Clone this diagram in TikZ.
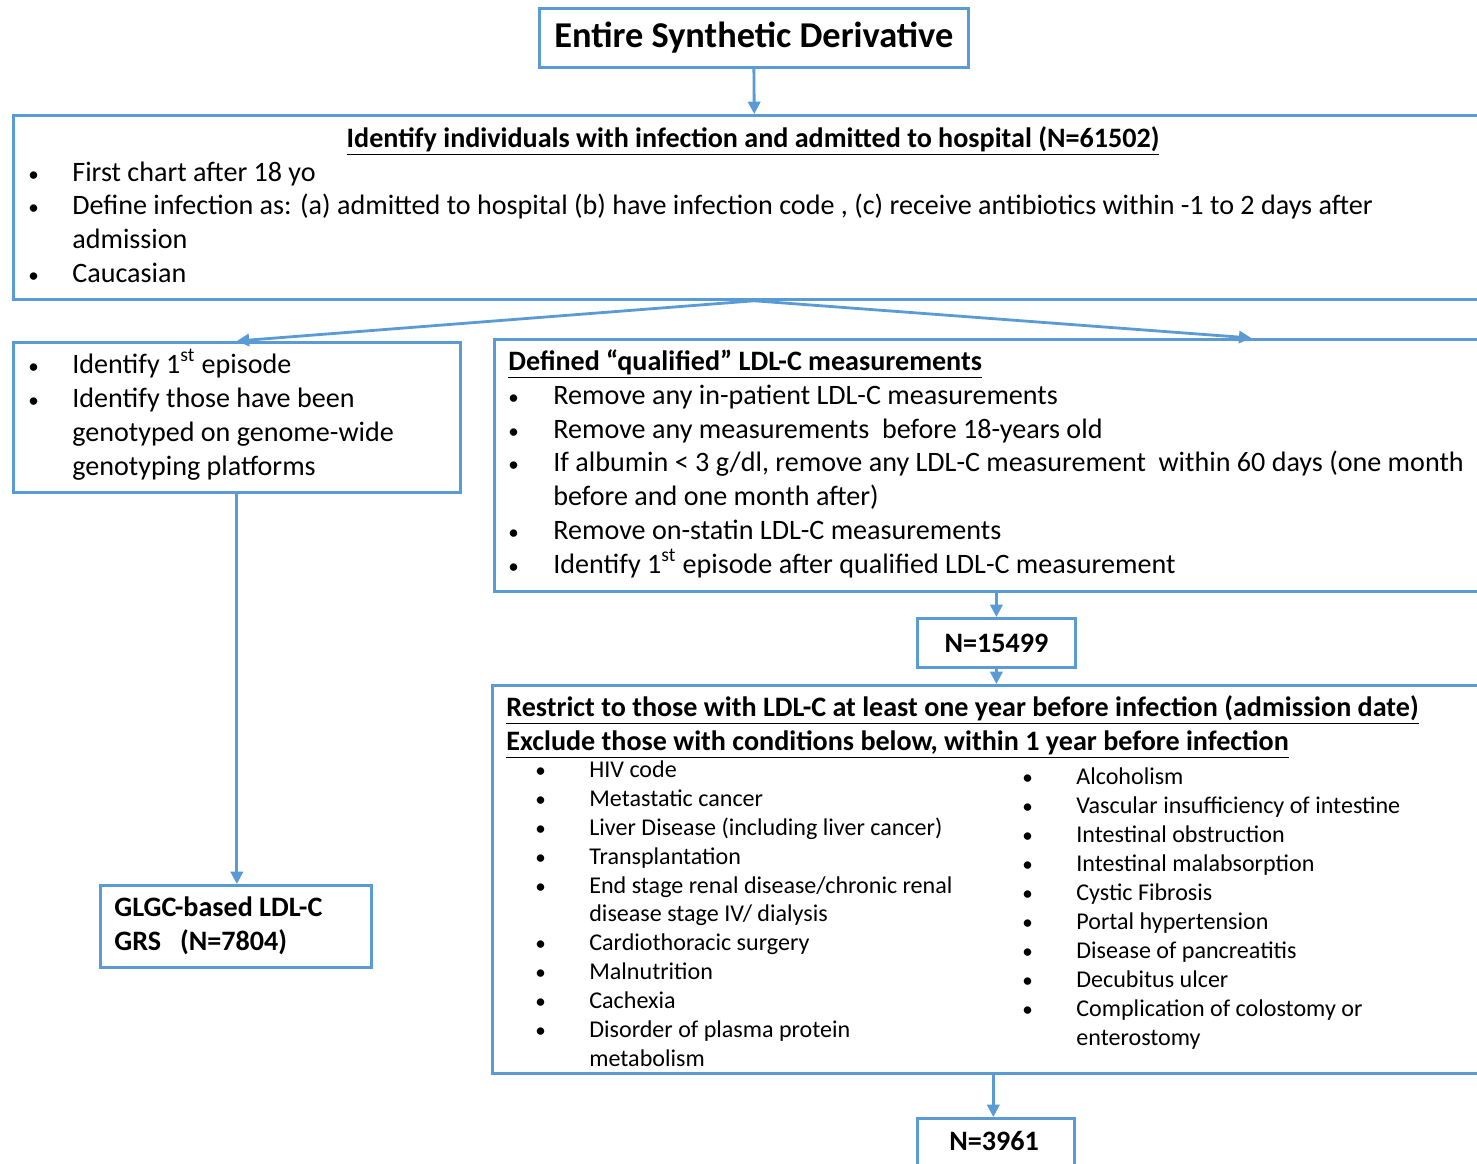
\documentclass[tikz,border=0pt]{standalone}
\usepackage{fontspec}
\setmainfont{Carlito}
\usetikzlibrary{arrows.meta}
\definecolor{boxBlue}{HTML}{5B9BD5}

\begin{document}
\begin{tikzpicture}[x=0.02cm, y=-0.02cm, font=\fontsize{16}{19}\selectfont,
    box/.style={draw=boxBlue, line width=1.6pt, inner sep=0pt, anchor=north west},
    arr/.style={boxBlue, line width=1.6pt, -{Triangle[length=7pt,width=7pt]}},
    txt/.style={anchor=base west, inner sep=0pt},
    bul/.style={txt, font=\fontsize{12}{14}\selectfont},
    hd/.style={txt, font=\bfseries\fontsize{16}{19}\selectfont},
    sm/.style={txt, font=\fontsize{13.7}{16}\selectfont}]
    \useasboundingbox (0,0) rectangle (1477,1163);
    \clip (0,0) rectangle (1477,1163);

    % boxes
    \node[box, minimum width=8.58cm, minimum height=1.18cm,
      font=\bfseries\fontsize{20.7}{24}\selectfont] (top) at (538,7) {Entire Synthetic Derivative};
    \node[box, minimum width=29.64cm, minimum height=3.68cm] (infect) at (12,114) {};
    \node[box, minimum width=8.94cm, minimum height=3.0cm] (epi) at (12,341) {};
    \node[box, minimum width=30.28cm, minimum height=5.04cm] (qual) at (493,338) {};
    \node[box, minimum width=5.42cm, minimum height=1.64cm] (grs) at (99,884) {};
    \node[box, minimum width=3.16cm, minimum height=0.98cm,
      font=\bfseries\fontsize{16}{19}\selectfont] (nA) at (916,617) {N=15499};
    \node[box, minimum width=20.04cm, minimum height=7.76cm] (excl) at (491,684) {};
    \node[box, minimum width=3.14cm, minimum height=1.6cm] (nB) at (916,1117) {};

    % infection box
    \node[hd, anchor=base] (infHd) at (753,147) {\underline{Identify individuals with infection and admitted to hospital (N=61502)}};
    \foreach \y/\b/\t [count=\k] in {
        181/•/First chart after 18 yo,
        214/•/{Define infection as: (a) admitted to hospital (b) have infection code , (c) receive antibiotics within -1 to 2 days after},
        248//admission,
        282/•/Caucasian} {
      \node[bul] (infB\k) at (28,\y) {\b};
      \node[txt] (inf\k) at (72,\y) {\t};
    }

    % episode box
    \foreach \y/\b/\t [count=\k] in {
        373/•/Identify 1\textsuperscript{st} episode,
        407/•/Identify those have been,
        441//genotyped on genome-wide,
        475//genotyping platforms} {
      \node[bul] (epiB\k) at (28,\y) {\b};
      \node[txt] (epi\k) at (72,\y) {\t};
    }

    % qualified box
    \node[hd] (qualHd) at (508,370) {\underline{Defined “qualified” LDL-C measurements}};
    \foreach \y/\b/\t [count=\k] in {
        404/•/Remove any in-patient LDL-C measurements,
        438/•/Remove any measurements\ \ before 18-years old,
        471/•/{If albumin < 3 g/dl, remove any LDL-C measurement\ \ within 60 days (one month},
        505//before and one month after),
        539/•/Remove on-statin LDL-C measurements,
        573/•/Identify 1\textsuperscript{st} episode after qualified LDL-C measurement} {
      \node[bul] (qualB\k) at (508,\y) {\b};
      \node[txt] (qual\k) at (553,\y) {\t};
    }

    % GRS box
    \node[hd] (grs1) at (114,916) {GLGC-based LDL-C};
    \node[hd] (grs2) at (114,950) {GRS\ \ \ (N=7804)};

    % exclusion box
    \node[hd] (exHdA) at (506,716) {\underline{Restrict to those with LDL-C at least one year before infection (admission date)}};
    \node[hd] (exHdB) at (506,750) {\underline{Exclude those with conditions below, within 1 year before infection}};
    \foreach \y/\b/\t [count=\k] in {
        777/•/HIV code,
        806/•/Metastatic cancer,
        835/•/Liver Disease (including liver cancer),
        864/•/Transplantation,
        893/•/{End stage renal disease/chronic renal},
        921//{disease stage IV/ dialysis},
        950/•/Cardiothoracic surgery,
        979/•/Malnutrition,
        1008/•/Cachexia,
        1037/•/Disorder of plasma protein,
        1066//metabolism} {
      \node[bul] (exLB\k) at (535,\y) {\b};
      \node[sm] (exL\k) at (589,\y) {\t};
    }
    \foreach \y/\b/\t [count=\k] in {
        784/•/Alcoholism,
        813/•/Vascular insufficiency of intestine,
        842/•/Intestinal obstruction,
        871/•/Intestinal malabsorption,
        900/•/Cystic Fibrosis,
        929/•/Portal hypertension,
        958/•/Disease of pancreatitis,
        987/•/Decubitus ulcer,
        1016/•/Complication of colostomy or,
        1045//enterostomy} {
      \node[bul] (exRB\k) at (1022,\y) {\b};
      \node[sm] (exR\k) at (1076,\y) {\t};
    }
    \node[font=\bfseries\fontsize{16}{19}\selectfont] (nBtxt) at (994,1141) {N=3961};

    % connectors
    \draw[arr] (top.south) -- (infect.north);
    \draw[arr] (infect.south) -- (epi.north);
    \draw[arr] (infect.south) -- (qual.north);
    \draw[arr] (epi.south) -- (epi.south |- grs.north);
    \draw[arr] (qual.south -| nA.north) -- (nA.north);
    \draw[arr] (nA.south) -- (nA.south |- excl.north);
    \draw[arr] (excl.south) -- (excl.south |- nB.north);
\end{tikzpicture}
\end{document}
